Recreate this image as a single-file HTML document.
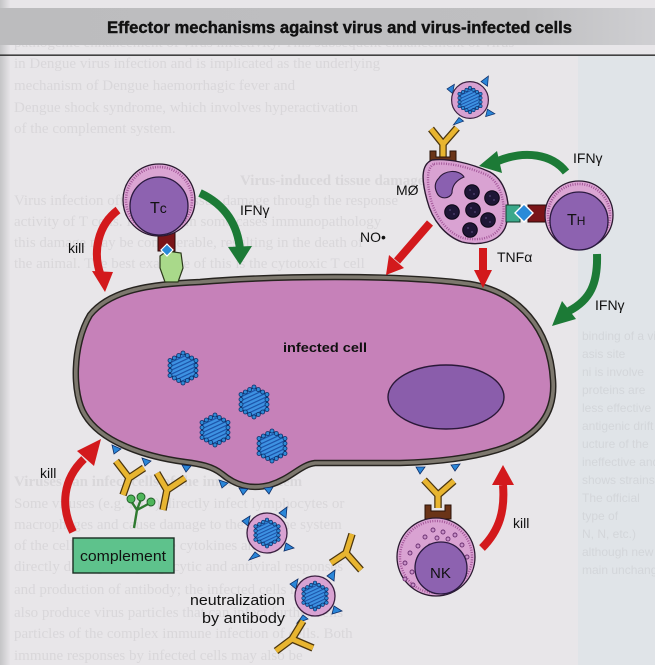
<!DOCTYPE html>
<html><head><meta charset="utf-8">
<style>
html,body{margin:0;padding:0;background:#e8e6e9;}
svg{display:block;}
</style></head>
<body>
<svg width="655" height="665" viewBox="0 0 655 665" xmlns="http://www.w3.org/2000/svg">
<defs>
<pattern id="hatch" width="3.6" height="3.6" patternUnits="userSpaceOnUse" patternTransform="rotate(65)">
<rect width="3.6" height="3.6" fill="#3d92e2"/><rect width="1.2" height="3.6" fill="#1b52a8"/>
</pattern>
<linearGradient id="lg" x1="0" x2="1" y1="0" y2="0">
<stop offset="0" stop-color="#c4c4c6"/><stop offset="1" stop-color="#e6e4e7"/>
</linearGradient>
<linearGradient id="band" x1="0" x2="1" y1="0" y2="0">
<stop offset="0" stop-color="#bcbcbe"/><stop offset="0.8" stop-color="#bfbfc1"/><stop offset="1" stop-color="#cfcfd2"/>
</linearGradient>
<g id="vir">
<polygon points="0,-15 13,-7.5 13,7.5 0,15 -13,7.5 -13,-7.5" fill="url(#hatch)" stroke="#0f326e" stroke-width="1.6"/>
<g fill="#2f8ad6" stroke="#0e2f6a" stroke-width="0.8">
<circle cx="0" cy="-15" r="2"/><circle cx="13" cy="-7.5" r="2"/><circle cx="13" cy="7.5" r="2"/>
<circle cx="0" cy="15" r="2"/><circle cx="-13" cy="7.5" r="2"/><circle cx="-13" cy="-7.5" r="2"/>
<circle cx="4.33" cy="-12.5" r="2"/><circle cx="8.67" cy="-10" r="2"/>
<circle cx="13" cy="-2.5" r="2"/><circle cx="13" cy="2.5" r="2"/>
<circle cx="8.67" cy="10" r="2"/><circle cx="4.33" cy="12.5" r="2"/>
<circle cx="-4.33" cy="12.5" r="2"/><circle cx="-8.67" cy="10" r="2"/>
<circle cx="-13" cy="2.5" r="2"/><circle cx="-13" cy="-2.5" r="2"/>
<circle cx="-8.67" cy="-10" r="2"/><circle cx="-4.33" cy="-12.5" r="2"/>
</g>
</g>
<g id="xvir">
<g fill="#2a86d8" stroke="#0e2f6a" stroke-width="0.8">
<polygon points="-17,-17 -25,-12 -19,-7"/>
<polygon points="12,-20 20,-26 19,-15"/>
<polygon points="19,10 27,15 17,18"/>
<polygon points="-12,19 -18,27 -7,23"/>
</g>
<circle r="20" fill="#d8a2d2" stroke="#3a2040" stroke-width="1.3"/>
<use href="#vir" transform="scale(0.88)"/>
</g>
</defs>

<!-- page background -->
<rect width="655" height="665" fill="#e8e6e9"/>
<rect x="578" y="56" width="77" height="609" fill="#e0e4e8"/>
<rect x="0" y="0" width="10" height="665" fill="url(#lg)"/>

<!-- faint show-through text -->
<g font-family="Liberation Serif, serif" font-size="15" fill="#d9d7da">
<text x="14" y="47">pathogenic enhancement of virus infectivity. This subsequent enhancement of virus</text>
<text x="14" y="68">in Dengue virus infection and is implicated as the underlying</text>
<text x="14" y="90">mechanism of Dengue haemorrhagic fever and</text>
<text x="14" y="112">Dengue shock syndrome, which involves hyperactivation</text>
<text x="14" y="133">of the complement system.</text>
<text x="240" y="185" font-weight="bold">Virus-induced tissue damage</text>
<text x="14" y="205">Virus infection often causes tissue damage through the response</text>
<text x="14" y="226">activity of T cells. However in some cases immunopathology</text>
<text x="14" y="247">this damage may be considerable, resulting in the death of</text>
<text x="14" y="268">the animal. The best example of this is the cytotoxic T cell</text>
<text x="14" y="486" font-weight="bold">Viruses can infect cells of the immune system</text>
<text x="14" y="508">Some viruses (e.g. HIV) directly infect lymphocytes or</text>
<text x="14" y="529">macrophages and cause damage to the immune system</text>
<text x="14" y="550">of the cells, which produce cytokines and also</text>
<text x="14" y="571">directly damage the phagocytic and antiviral responses</text>
<text x="14" y="594">and production of antibody; the infected cells may</text>
<text x="14" y="617">also produce virus particles that can infect further cells</text>
<text x="14" y="638">particles of the complex immune infection of cells. Both</text>
<text x="14" y="660">immune responses by infected cells may also be</text>
</g>
<g font-family="Liberation Sans, sans-serif" font-size="12" fill="#d3d6da">
<text x="582" y="340">binding of a vi</text>
<text x="582" y="358">asis site</text>
<text x="582" y="376">ni is involve</text>
<text x="582" y="394">proteins are</text>
<text x="582" y="412">less effective</text>
<text x="582" y="430">antigenic drift</text>
<text x="582" y="448">ucture of the</text>
<text x="582" y="466">ineffective and</text>
<text x="582" y="484">shows strains</text>
<text x="582" y="502">The official</text>
<text x="582" y="520">type of</text>
<text x="582" y="538">N, N, etc.)</text>
<text x="582" y="556">although new</text>
<text x="582" y="574">main unchanged</text>
</g>

<!-- title band -->
<rect x="0" y="8" width="655" height="37" fill="url(#band)"/>
<text x="107" y="33" font-family="Liberation Sans, sans-serif" font-weight="700" font-size="17" fill="#111" stroke="#111" stroke-width="0.4" textLength="465" lengthAdjust="spacingAndGlyphs">Effector mechanisms against virus and virus-infected cells</text>
<rect x="0" y="54.5" width="655" height="1.3" fill="#1a1a1a"/>

<!-- infected cell -->
<path d="M 200,282 C 270,276 400,274 470,284 C 520,292 550,330 553,380 C 556,420 530,440 497,450 C 470,458 440,462 400,463 L 315,463 C 300,465 292,478 270,485 C 250,490 235,485 222,474 C 212,466 200,464 185,462 C 140,456 100,440 85,415 C 72,395 72,345 90,315 C 110,290 150,284 200,282 Z" fill="#c681b9" stroke="#26231f" stroke-width="6.5"/>
<path d="M 200,282 C 270,276 400,274 470,284 C 520,292 550,330 553,380 C 556,420 530,440 497,450 C 470,458 440,462 400,463 L 315,463 C 300,465 292,478 270,485 C 250,490 235,485 222,474 C 212,466 200,464 185,462 C 140,456 100,440 85,415 C 72,395 72,345 90,315 C 110,290 150,284 200,282 Z" fill="none" stroke="#7d786e" stroke-width="3.6"/>
<ellipse cx="446" cy="397" rx="58" ry="32" fill="#8a5dab" stroke="#2a1838" stroke-width="1.4"/>
<text x="283" y="352" font-family="Liberation Sans, sans-serif" font-weight="bold" font-size="13" fill="#111" textLength="84" lengthAdjust="spacingAndGlyphs">infected cell</text>

<use href="#vir" transform="translate(183,368)"/>
<use href="#vir" transform="translate(254,402)"/>
<use href="#vir" transform="translate(215,430)"/>
<use href="#vir" transform="translate(272,446)"/>

<!-- surface viral antigens -->
<g fill="#2a86d8" stroke="#0e2f6a" stroke-width="0.8">
<polygon points="112,445 121,449 114,454"/>
<polygon points="142,458 151,461 145,466"/>
<polygon points="182,465 191,466 186,472"/>
<polygon points="219,480 228,483 222,488"/>
<polygon points="239,488 248,489 243,495"/>
<polygon points="264,488 273,487 269,494"/>
<polygon points="416,467 425,467 420,474"/>
<polygon points="451,465 460,464 455,471"/>
</g>

<!-- Tc cell -->
<rect x="158" y="232" width="17" height="19" fill="#7a1418" stroke="#2a0808" stroke-width="1"/>
<polygon points="160,256 167,251 181,253 183,268 178,282 165,282 160,268" fill="#a9d98a" stroke="#2c3a1c" stroke-width="1.2"/>
<polygon points="167,244 173,250 167,256 161,250" fill="#2a8ad8" stroke="#fff" stroke-width="1.2"/>
<circle cx="159" cy="200" r="36" fill="#dba5d3" stroke="#2a1a30" stroke-width="1.3"/>
<circle cx="159" cy="200" r="33" fill="none" stroke="#a5589b" stroke-width="2.6" stroke-dasharray="1 1.4"/>
<circle cx="159" cy="206" r="29" fill="#8d62b0" stroke="#2a1a40" stroke-width="1.3"/>
<text x="150" y="213" font-family="Liberation Sans, sans-serif" font-size="16" fill="#111">T<tspan font-size="14">c</tspan></text>

<!-- Tc arrows -->
<path d="M 118,210 C 98,225 92,252 101,276" fill="none" stroke="#d3191c" stroke-width="8"/>
<polygon points="92,271 113,272 105,292" fill="#d3191c"/>
<text x="68" y="253" font-family="Liberation Sans, sans-serif" font-size="14" fill="#111">kill</text>
<path d="M 200,193 C 226,205 238,226 240,250" fill="none" stroke="#1c7a36" stroke-width="8"/>
<polygon points="228,247 252,246 240,265" fill="#1c7a36"/>
<text x="240" y="215" font-family="Liberation Sans, sans-serif" font-size="14" fill="#111">IFNγ</text>

<!-- virion bound to macrophage antibody -->
<use href="#xvir" transform="translate(470,100) scale(0.92)"/>
<g fill="none" stroke-linecap="butt">
<g stroke="#4a3510" stroke-width="7.5">
<path d="M 443,157 L 443,144 L 431,129 M 443,144 L 457,128"/>
</g>
<g stroke="#e8b530" stroke-width="5">
<path d="M 443,157 L 443,144 L 431,129 M 443,144 L 457,128"/>
</g>
</g>
<path d="M 430,151 L 436,151 L 436,157 L 450,157 L 450,151 L 456,151 L 456,166 L 430,166 Z" fill="#6a3418" stroke="#2a1208" stroke-width="1"/>

<!-- macrophage -->
<path d="M 432,160 C 448,158 470,163 490,172 C 508,182 512,210 505,228 C 498,243 478,246 462,242 C 445,236 432,220 427,200 C 422,182 420,165 432,160 Z" fill="#d9a2d2" stroke="#2a1a30" stroke-width="1.4"/>
<path d="M 434,164 C 448,162 468,167 487,175 C 503,184 507,210 501,226 C 494,239 478,241 463,238 C 448,233 436,218 431,200 C 427,184 426,168 434,164 Z" fill="none" stroke="#a5589b" stroke-width="2.4" stroke-dasharray="1 1.4"/>
<path d="M 439,178 C 444,170 459,169 464,177 C 457,180 452,185 452,193 C 450,199 440,200 437,193 C 434,187 435,182 439,178 Z" fill="#8a60b0" stroke="#2a1838" stroke-width="1.1"/>
<g fill="#1e1636" stroke="#0a0614" stroke-width="1">
<circle cx="472" cy="192" r="7.3"/><circle cx="492" cy="198" r="7.3"/>
<circle cx="452" cy="212" r="7.3"/><circle cx="473" cy="210" r="7.3"/>
<circle cx="488" cy="220" r="7.3"/><circle cx="470" cy="230" r="7.3"/>
</g>
<g fill="#4a3a6a">
<circle cx="470" cy="190" r="1"/><circle cx="474" cy="194" r="1"/><circle cx="490" cy="196" r="1"/><circle cx="494" cy="200" r="1"/>
<circle cx="450" cy="210" r="1"/><circle cx="454" cy="214" r="1"/><circle cx="471" cy="208" r="1"/><circle cx="475" cy="212" r="1"/>
<circle cx="486" cy="218" r="1"/><circle cx="490" cy="222" r="1"/><circle cx="468" cy="228" r="1"/><circle cx="472" cy="232" r="1"/>
</g>
<text x="396" y="195" font-family="Liberation Sans, sans-serif" font-size="14" fill="#111">MØ</text>

<!-- MØ-TH interaction -->
<rect x="506" y="205" width="14" height="17" fill="#3aa88a" stroke="#123a2c" stroke-width="1"/>
<rect x="528" y="205" width="18" height="17" fill="#7a1418" stroke="#2a0808" stroke-width="1"/>
<polygon points="524,204 533,213 524,222 515,213" fill="#2a8ad8" stroke="#fff" stroke-width="1.4"/>

<!-- TH cell -->
<circle cx="579" cy="215" r="34" fill="#dba5d3" stroke="#2a1a30" stroke-width="1.3"/>
<circle cx="579" cy="215" r="31" fill="none" stroke="#a5589b" stroke-width="2.6" stroke-dasharray="1 1.4"/>
<circle cx="579" cy="221" r="29" fill="#8d62b0" stroke="#2a1a40" stroke-width="1.3"/>
<text x="567" y="225" font-family="Liberation Sans, sans-serif" font-size="16" fill="#111">T<tspan font-size="12">H</tspan></text>

<!-- TH / MØ arrows -->
<path d="M 566,172 C 552,154 525,150 498,161" fill="none" stroke="#1c7a36" stroke-width="8"/>
<polygon points="497,151 502,173 479,166" fill="#1c7a36"/>
<text x="573" y="163" font-family="Liberation Sans, sans-serif" font-size="14" fill="#111">IFNγ</text>
<path d="M 597,254 C 598,284 590,300 569,311" fill="none" stroke="#1c7a36" stroke-width="8"/>
<polygon points="562,301 576,319 552,326" fill="#1c7a36"/>
<text x="595" y="310" font-family="Liberation Sans, sans-serif" font-size="14" fill="#111">IFNγ</text>

<path d="M 430,223 L 397,261" fill="none" stroke="#d3191c" stroke-width="8"/>
<polygon points="404,268 389,255 386,275" fill="#d3191c"/>
<text x="360" y="242" font-family="Liberation Sans, sans-serif" font-size="14" fill="#111">NO•</text>

<rect x="479" y="248" width="8" height="24" fill="#d3191c"/>
<polygon points="474,270 492,270 483,288" fill="#d3191c"/>
<text x="497" y="262" font-family="Liberation Sans, sans-serif" font-size="14" fill="#111">TNFα</text>

<!-- complement side -->
<path d="M 73,532 C 60,506 63,479 84,459" fill="none" stroke="#d3191c" stroke-width="8"/>
<polygon points="77,451 94,466 101,439" fill="#d3191c"/>
<text x="40" y="478" font-family="Liberation Sans, sans-serif" font-size="14" fill="#111">kill</text>

<g fill="none">
<g stroke="#4a3510" stroke-width="7.5">
<path d="M 123,495 L 129,478 L 116,461 M 129,478 L 144,468"/>
<path d="M 163,510 L 167,490 L 157,473 M 167,490 L 185,478"/>
</g>
<g stroke="#e8b530" stroke-width="5">
<path d="M 123,495 L 129,478 L 116,461 M 129,478 L 144,468"/>
<path d="M 163,510 L 167,490 L 157,473 M 167,490 L 185,478"/>
</g>
</g>
<g stroke="#2f7a30" stroke-width="2.4" fill="none">
<path d="M 134,528 L 137,510 L 131,501 M 137,510 L 141,499 M 137,510 L 150,503"/>
</g>
<g fill="#4fb55a" stroke="#1e5a24" stroke-width="0.9">
<circle cx="131" cy="499" r="4"/><circle cx="141" cy="497" r="4"/><circle cx="151" cy="502" r="4"/>
</g>

<rect x="73" y="538" width="101" height="35" fill="#5ec28c" stroke="#1a2e22" stroke-width="1.4"/>
<text x="80" y="561" font-family="Liberation Sans, sans-serif" font-size="15" fill="#111" textLength="86" lengthAdjust="spacingAndGlyphs">complement</text>

<!-- neutralization -->
<use href="#xvir" transform="translate(267,533)"/>
<use href="#xvir" transform="translate(315,596)"/>
<g fill="none">
<g stroke="#4a3510" stroke-width="7.5">
<path d="M 331,563 L 346,553 L 352,534 M 346,553 L 361,570"/>
<path d="M 303,621 L 292,639 L 276,651 M 292,639 L 313,648"/>
</g>
<g stroke="#e8b530" stroke-width="5">
<path d="M 331,563 L 346,553 L 352,534 M 346,553 L 361,570"/>
<path d="M 303,621 L 292,639 L 276,651 M 292,639 L 313,648"/>
</g>
</g>
<text x="285" y="605" text-anchor="end" font-family="Liberation Sans, sans-serif" font-size="15" fill="#111" textLength="95" lengthAdjust="spacingAndGlyphs">neutralization</text>
<text x="285" y="623" text-anchor="end" font-family="Liberation Sans, sans-serif" font-size="15" fill="#111" textLength="83" lengthAdjust="spacingAndGlyphs">by antibody</text>

<!-- NK cell -->
<g fill="none">
<path d="M 438,508 L 438,495 L 424,480 M 438,495 L 454,481" stroke="#4a3510" stroke-width="7.5"/>
<path d="M 438,508 L 438,495 L 424,480 M 438,495 L 454,481" stroke="#e8b530" stroke-width="5"/>
</g>
<path d="M 425,505 L 431,505 L 431,511 L 445,511 L 445,505 L 451,505 L 451,519 L 425,519 Z" fill="#6a3418" stroke="#2a1208" stroke-width="1"/>
<circle cx="436" cy="557" r="39" fill="#d9a2d2" stroke="#2a1a30" stroke-width="1.3"/>
<circle cx="436" cy="557" r="36" fill="none" stroke="#a5589b" stroke-width="2.4" stroke-dasharray="1 1.4"/>
<g fill="#c890c8" stroke="#6a3070" stroke-width="0.9">
<circle cx="433" cy="530" r="2"/><circle cx="443" cy="532" r="2"/><circle cx="455" cy="535" r="2"/>
<circle cx="425" cy="537" r="2"/><circle cx="437" cy="538" r="2"/><circle cx="448" cy="539" r="2"/>
<circle cx="462" cy="545" r="2"/><circle cx="418" cy="546" r="2"/><circle cx="430" cy="546" r="2"/>
<circle cx="443" cy="547" r="2"/><circle cx="455" cy="550" r="2"/><circle cx="410" cy="553" r="2"/>
<circle cx="467" cy="557" r="2"/><circle cx="405" cy="563" r="2"/><circle cx="412" cy="572" r="2"/>
<circle cx="405" cy="579" r="2"/><circle cx="413" cy="585" r="2"/><circle cx="420" cy="558" r="2"/>
</g>
<circle cx="441" cy="568" r="26" fill="#8d62b0" stroke="#2a1a40" stroke-width="1.3"/>
<text x="430" y="578" font-family="Liberation Sans, sans-serif" font-size="15" fill="#111">NK</text>

<path d="M 482,548 C 500,530 505,510 503,485" fill="none" stroke="#d3191c" stroke-width="8"/>
<polygon points="492,485 514,485 503,465" fill="#d3191c"/>
<text x="513" y="528" font-family="Liberation Sans, sans-serif" font-size="14" fill="#111">kill</text>
</svg>
</body></html>
